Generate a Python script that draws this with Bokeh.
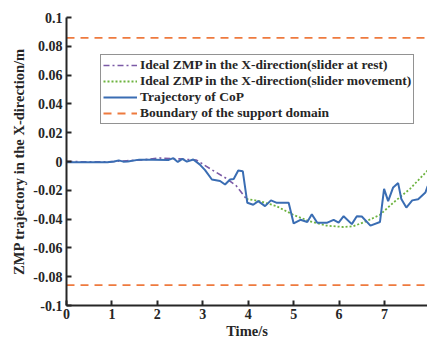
from bokeh.plotting import figure
from bokeh.models import Range1d, FixedTicker, Legend, LegendItem
from bokeh.embed import file_html
from bokeh.resources import INLINE

# CoP trajectory
cop_t = [0.0, 0.3, 0.6, 0.9, 1.05, 1.15, 1.25, 1.35, 1.6, 1.9, 2.25, 2.35, 2.45, 2.55, 2.65, 2.79,
         2.93, 3.05, 3.2, 3.38, 3.49, 3.6, 3.68, 3.78, 3.88, 3.98, 4.11, 4.22, 4.37, 4.5, 4.63,
         4.78, 4.89, 5.0, 5.15, 5.3, 5.4, 5.52, 5.74, 5.88, 5.99, 6.1, 6.28, 6.39, 6.5, 6.69,
         6.9, 6.99, 7.08, 7.19, 7.3, 7.37, 7.48, 7.61, 7.74, 7.9, 7.95]
cop_v = [-0.0005, -0.0006, -0.0005, -0.0006, 0.0, 0.0008, -0.0001, 0.0, 0.0013, 0.0012, 0.0011,
         0.0023, -0.0003, 0.0018, -0.0001, 0.0014,
         -0.002, -0.006, -0.0125, -0.0135, -0.016, -0.0125, -0.0122, -0.0063, -0.0067, -0.0287,
         -0.030, -0.0275, -0.031, -0.027, -0.0287, -0.0287, -0.0287, -0.043, -0.0405, -0.042,
         -0.0367, -0.0425, -0.0425, -0.0405, -0.0425, -0.038, -0.0435, -0.038, -0.0382, -0.0445,
         -0.042, -0.019, -0.0275, -0.018, -0.015, -0.026, -0.032, -0.027, -0.0262, -0.0215, -0.017]

# Ideal ZMP, slider at rest
rest_t = [0.0, 0.5, 0.89, 1.32, 1.7, 2.05, 2.49, 2.86, 3.16, 3.52, 3.74, 3.96]
rest_v = [0.0, -0.0002, -0.0003, 0.0005, 0.0012, 0.0024, 0.0018, 0.001, -0.005, -0.0118, -0.017, -0.026]

# Ideal ZMP, slider movement
move_t = [3.96, 4.25, 4.62, 4.99, 5.35, 5.72, 6.09, 6.31, 6.6, 6.9, 7.19, 7.56, 7.95]
move_v = [-0.026, -0.0275, -0.031, -0.037, -0.0415, -0.0445, -0.0455, -0.045, -0.0415, -0.037,
          -0.0287, -0.019, -0.0062]

boundary = 0.0858
x_ticks = [0, 1, 2, 3, 4, 5, 6, 7, 8]
y_ticks = [-0.1, -0.08, -0.06, -0.04, -0.02, 0, 0.02, 0.04, 0.06, 0.08, 0.1]
y_labels = ["-0.1", "-0.08", "-0.06", "-0.04", "-0.02", "0", "0.02", "0.04", "0.06", "0.08", "0.1"]

FONT = "Liberation Serif"
AX = "#262626"

p = figure(width=427, height=341, output_backend="svg", toolbar_location=None,
           x_range=Range1d(0, 7.946), y_range=Range1d(-0.1, 0.1),
           min_border_left=66, min_border_right=0, min_border_top=17, min_border_bottom=36)
p.outline_line_color = None
p.xgrid.visible = False
p.ygrid.visible = False
p.background_fill_color = "white"

r_rest = p.line(rest_t, rest_v, line_color="#7B5AA6", line_width=1.6, line_dash="6 3 2 3")
r_move = p.line(move_t, move_v, line_color="#6DB33F", line_width=1.8, line_dash="2 2")
r_cop = p.line(cop_t, cop_v, line_color="#3A6DB3", line_width=2)
r_b1 = p.line([0, 8], [boundary, boundary], line_color="#EE7A3E", line_width=1.8, line_dash="8 6")
p.line([0, 8], [-boundary, -boundary], line_color="#EE7A3E", line_width=1.8, line_dash="8 6")

for ax in (p.xaxis[0], p.yaxis[0]):
    ax.axis_line_color = AX
    ax.axis_line_width = 2
    ax.major_tick_line_color = AX
    ax.major_tick_line_width = 2
    ax.major_tick_in = 5
    ax.major_tick_out = 0
    ax.minor_tick_line_color = None
    ax.major_label_text_font = FONT
    ax.major_label_text_font_style = "bold"
    ax.major_label_text_font_size = "14px"
    ax.major_label_text_color = AX
    ax.axis_label_text_font = FONT
    ax.axis_label_text_font_style = "bold"
    ax.axis_label_text_font_size = "14.5px"
    ax.axis_label_text_color = AX

p.xaxis.ticker = FixedTicker(ticks=x_ticks)
p.yaxis.ticker = FixedTicker(ticks=y_ticks)
p.yaxis.major_label_overrides = {t: l for t, l in zip(y_ticks, y_labels)}
p.xaxis.axis_label = "Time/s"
p.yaxis.axis_label = "ZMP trajectory in the X-direction/m"
p.xaxis.major_label_standoff = 3
p.xaxis.axis_label_standoff = 1
p.yaxis.major_label_standoff = 4
p.yaxis.axis_label_standoff = 3

legend = Legend(items=[
    LegendItem(label="Ideal ZMP in the X-direction(slider at rest)", renderers=[r_rest]),
    LegendItem(label="Ideal ZMP in the X-direction(slider movement)", renderers=[r_move]),
    LegendItem(label="Trajectory of CoP", renderers=[r_cop]),
    LegendItem(label="Boundary of the support domain", renderers=[r_b1]),
], location=(34, 181))
legend.label_text_font = FONT
legend.label_text_font_style = "bold"
legend.label_text_font_size = "13.5px"
legend.label_text_color = AX
legend.glyph_width = 34
legend.glyph_height = 14
legend.label_height = 14
legend.label_standoff = 3
legend.spacing = 0
legend.padding = 2
legend.margin = 0
legend.border_line_color = AX
legend.border_line_width = 1.5
legend.background_fill_alpha = 1
p.add_layout(legend, "center")

open("out.html", "w").write(file_html(p, INLINE))
